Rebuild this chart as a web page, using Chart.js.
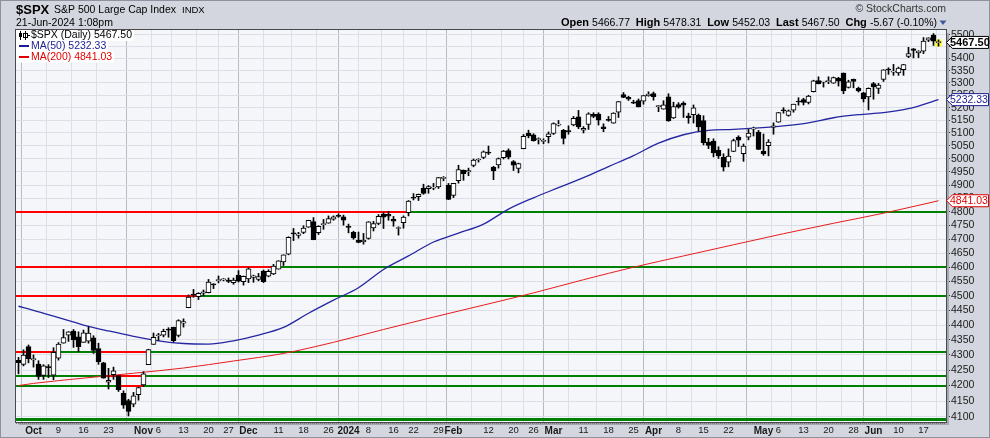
<!DOCTYPE html>
<html>
<head>
<meta charset="utf-8">
<script src="https://cdn.jsdelivr.net/npm/chart.js@4.4.1/dist/chart.umd.min.js"></script>
<style>
  html, body { margin: 0; padding: 0; background: #d3d6de; }
  #wrap { width: 990px; height: 438px; }
</style>
</head>
<body>
<div id="wrap"><canvas id="spxChart" width="990" height="438"></canvas></div>
<script>
// first candle is Sep 27 2023, index 0 = Oct 2 2023 (trading days)
const firstIndex = -3;

const opens = [
  4282, 4269, 4328,
  4284, 4270, 4233, 4260, 4234,
  4289, 4339, 4366, 4380, 4360,
  4342, 4346, 4357, 4321, 4274,
  4211, 4235, 4232, 4175, 4152,
  4140, 4171, 4202, 4268, 4335,
  4364, 4366, 4384, 4392, 4365,
  4406, 4459, 4505, 4497, 4509,
  4511, 4539, 4553, 4555,
  4555, 4546, 4571, 4549, 4559,
  4564, 4557, 4586, 4568, 4576,
  4593, 4619, 4646, 4721, 4714,
  4725, 4744, 4764, 4724, 4753,
  4758, 4773, 4786, 4782,
  4745, 4725, 4697, 4690,
  4703, 4741, 4757, 4792, 4791,
  4772, 4739, 4760, 4797,
  4854, 4856, 4888, 4886, 4888,
  4893, 4925, 4899, 4861, 4916,
  4957, 4950, 4974, 4995, 5005,
  5026, 4968, 4976, 5004, 5031,
  4989, 4963, 5039, 5100,
  5093, 5074, 5067, 5085, 5098,
  5131, 5110, 5109, 5132, 5164,
  5111, 5134, 5174, 5175, 5124,
  5154, 5139, 5182, 5253, 5242,
  5220, 5229, 5226, 5248,
  5257, 5204, 5194, 5244, 5159,
  5212, 5218, 5168, 5172, 5171,
  5149, 5064, 5068, 5032, 5005,
  4987, 5028, 5084, 5019, 5084,
  5115, 5103, 5029, 5050, 5123,
  5142, 5188, 5169, 5190, 5225,
  5233, 5221, 5264, 5310, 5303,
  5305, 5299, 5319, 5340, 5282,
  5315, 5278, 5260, 5243,
  5297, 5278, 5314, 5357, 5344,
  5341, 5354, 5409, 5441, 5424,
  5431, 5477, 5499, 5466.77
];

const highs = [
  4292, 4317, 4333,
  4300, 4281, 4268, 4268, 4324,
  4341, 4385, 4378, 4385, 4377,
  4383, 4394, 4364, 4339, 4276,
  4256, 4260, 4232, 4183, 4156,
  4178, 4195, 4245, 4319, 4373,
  4372, 4386, 4391, 4393, 4418,
  4421, 4503, 4522, 4511, 4520,
  4557, 4542, 4569, 4560,
  4562, 4562, 4588, 4569, 4599,
  4572, 4578, 4590, 4591, 4610,
  4623, 4644, 4709, 4739, 4725,
  4749, 4769, 4779, 4749, 4772,
  4785, 4785, 4793, 4788,
  4755, 4729, 4726, 4721,
  4764, 4765, 4790, 4798, 4802,
  4783, 4745, 4785, 4842,
  4868, 4866, 4903, 4898, 4906,
  4929, 4932, 4906, 4906, 4975,
  4957, 4964, 4999, 5000, 5030,
  5049, 4971, 5003, 5032, 5038,
  4993, 4983, 5094, 5111,
  5097, 5081, 5077, 5104, 5140,
  5149, 5114, 5128, 5165, 5189,
  5125, 5180, 5180, 5180, 5136,
  5165, 5180, 5225, 5261, 5246,
  5230, 5235, 5249, 5264,
  5263, 5209, 5228, 5256, 5222,
  5220, 5224, 5178, 5211, 5175,
  5168, 5079, 5077, 5046, 5019,
  5038, 5076, 5089, 5057, 5114,
  5123, 5110, 5096, 5074, 5140,
  5181, 5200, 5191, 5214, 5240,
  5238, 5250, 5311, 5325, 5305,
  5325, 5324, 5323, 5341, 5311,
  5316, 5283, 5262, 5280,
  5302, 5298, 5354, 5362, 5376,
  5365, 5376, 5447, 5442, 5433,
  5488, 5487, 5505, 5478.31
];

const lows = [
  4238, 4264, 4274,
  4260, 4220, 4220, 4226, 4219,
  4283, 4339, 4345, 4325, 4311,
  4342, 4339, 4305, 4269, 4224,
  4189, 4220, 4181, 4127, 4103,
  4132, 4153, 4197, 4268, 4335,
  4348, 4360, 4359, 4343, 4360,
  4393, 4459, 4495, 4487, 4500,
  4510, 4525, 4545, 4552,
  4546, 4540, 4548, 4537, 4546,
  4547, 4552, 4546, 4566, 4574,
  4593, 4606, 4644, 4695, 4704,
  4720, 4743, 4698, 4717, 4736,
  4758, 4769, 4780, 4751,
  4723, 4700, 4687, 4682,
  4700, 4730, 4753, 4739, 4769,
  4747, 4715, 4740, 4785,
  4844, 4842, 4865, 4869, 4882,
  4887, 4916, 4845, 4853, 4907,
  4918, 4935, 4969, 4987, 5000,
  5016, 4920, 4964, 4999, 4999,
  4955, 4946, 5038, 5081,
  5068, 5057, 5058, 5061, 5094,
  5127, 5057, 5095, 5128, 5117,
  5100, 5114, 5160, 5131, 5105,
  5146, 5138, 5161, 5240, 5229,
  5216, 5203, 5214, 5246,
  5230, 5184, 5194, 5146, 5157,
  5198, 5161, 5138, 5139, 5107,
  5053, 5039, 5007, 5001, 4953,
  4969, 5027, 5047, 4990, 5073,
  5088, 5035, 5013, 5011, 5095,
  5142, 5178, 5166, 5182, 5210,
  5211, 5215, 5263, 5296, 5283,
  5297, 5298, 5287, 5256, 5279,
  5280, 5263, 5223, 5191,
  5234, 5257, 5306, 5335, 5331,
  5331, 5331, 5404, 5403, 5404,
  5421, 5471, 5455, 5452.03
];

const closes = [
  4274.5, 4299.7, 4288.1,
  4288.4, 4229.5, 4263.8, 4258.2, 4308.5,
  4335.7, 4358.2, 4377, 4349.6, 4327.8,
  4373.6, 4373.2, 4314.6, 4278, 4224.2,
  4217, 4247.7, 4186.8, 4137.2, 4117.4,
  4166.8, 4193.8, 4237.9, 4317.8, 4358.3,
  4366, 4378.4, 4382.8, 4347.4, 4415.2,
  4411.6, 4495.7, 4502.9, 4508.2, 4514,
  4547.4, 4538.2, 4556.6, 4559.3,
  4550.4, 4554.9, 4550.6, 4567.8, 4594.6,
  4569.8, 4567.2, 4549.3, 4585.6, 4604.4,
  4622.4, 4643.7, 4707.1, 4719.6, 4719.2,
  4740.6, 4768.4, 4698.4, 4746.8, 4754.6,
  4774.8, 4781.6, 4783.4, 4769.8,
  4742.8, 4704.8, 4688.7, 4697.2,
  4763.5, 4756.5, 4783.5, 4780.2, 4783.8,
  4766, 4739.2, 4780.9, 4839.8,
  4850.4, 4864.6, 4868.6, 4894.2, 4891,
  4927.9, 4925, 4845.7, 4906.2, 4958.6,
  4942.8, 4954.2, 4995.1, 4997.9, 5026.6,
  5021.8, 4953.2, 5000.6, 5029.7, 5005.6,
  4975.5, 4981.8, 5087, 5088.8,
  5069.5, 5078.2, 5069.8, 5096.3, 5137.1,
  5131, 5078.7, 5104.8, 5157.4, 5123.7,
  5117.9, 5175.3, 5165.3, 5150.5, 5117.1,
  5149.4, 5178.5, 5224.6, 5241.5, 5234.2,
  5218.2, 5203.6, 5248.5, 5254.4,
  5243.8, 5205.8, 5211.5, 5147.2, 5204.3,
  5202.4, 5209.9, 5160.6, 5199.1, 5123.4,
  5061.8, 5051.4, 5022.2, 5011.1, 4967.2,
  5010.6, 5070.6, 5071.6, 5048.4, 5100,
  5116.2, 5035.7, 5018.4, 5064.2, 5127.8,
  5180.7, 5187.7, 5187.7, 5214.1, 5222.7,
  5221.4, 5246.7, 5308.2, 5297.1, 5303.3,
  5308.1, 5321.4, 5307, 5267.8, 5304.7,
  5306, 5267, 5235.5, 5277.5,
  5283.4, 5291.3, 5354, 5353, 5347,
  5360.8, 5375.3, 5421, 5433.7, 5431.6,
  5473.2, 5487, 5473.17, 5467.5
];

// moving averages (weekly points)
const ma50Index = [-3, 0, 5, 10, 15, 20, 25, 30, 35, 40, 45, 50, 55, 60, 65, 70, 75, 80, 85, 90, 95,
  100, 105, 110, 115, 120, 125, 130, 135, 140, 145, 150, 155, 160, 165, 170, 175, 181];
const ma50 = [4464, 4450, 4425, 4400, 4380, 4362, 4347, 4338, 4336, 4347, 4366, 4392, 4440, 4485, 4528, 4592, 4640, 4690, 4722, 4755, 4810,
  4852, 4890, 4928, 4970, 5012, 5060, 5093, 5110, 5114, 5120, 5128, 5140, 5160, 5172, 5180, 5196, 5232.33];

const ma200Index = [-3, 0, 10, 20, 30, 40, 50, 60, 70, 80, 90, 100, 110, 120, 130, 140, 150, 160, 170, 181];
const ma200 = [4200, 4207, 4224, 4240, 4257, 4280, 4305, 4342, 4385, 4427, 4468, 4510, 4556, 4600, 4640, 4680, 4720, 4758, 4795, 4841.03];

// x axis labels
const tickIndex = [0, 5, 10, 15, 22, 25, 30, 35, 39, 43, 49, 54, 59, 63, 67, 72, 76, 81, 84, 91, 96, 100,
  104, 110, 115, 120, 124, 129, 134, 139, 146, 149, 154, 159, 164, 168, 173, 178];
const tickText = ["Oct", "9", "16", "23", "Nov", "6", "13", "20", "27", "Dec", "11", "18", "26", "2024", "8", "16", "22", "29", "Feb", "12", "20", "26",
  "Mar", "11", "18", "25", "Apr", "8", "15", "22", "May", "6", "13", "20", "28", "Jun", "10", "17"];
const boldTicks = ["Oct", "Nov", "Dec", "2024", "Feb", "Mar", "Apr", "May", "Jun"];

const yTicks = [];
for (let v = 4100; v <= 5500; v += 50) yTicks.push(v);

// drawn support / resistance lines, red parts given as index spans
const levelPrices = [4800, 4600, 4500, 4310, 4230, 4200, 4095];
const levelRedSpans = [
  [[-3.5, 75.3]],
  [[-3.5, 47.9]],
  [[-3.5, 32.5]],
  [[-3.5, 5.1], [13.3, 22.9]],
  [[13.9, 21.9]],
  [[16.9, 21.9]],
  []
];

const FONT = '"Liberation Sans", Arial, sans-serif';
const last = closes.length - 1;

const candleX = closes.map((c, k) => k + firstIndex);
const wickData = candleX.map((x, k) => ({ x: x, y: [lows[k], highs[k]] }));
const bodyData = candleX.map((x, k) => ({ x: x, y: [opens[k], closes[k]] }));
const bodyFill = closes.map((c, k) => (c >= opens[k] ? "#ffffff" : "#000000"));

function tag(ctx, x0, y, text, color, font) {
  ctx.save();
  ctx.beginPath();
  ctx.moveTo(x0 + 0.5, y);
  ctx.lineTo(x0 + 6.5, y - 6);
  ctx.lineTo(988.5, y - 6);
  ctx.lineTo(988.5, y + 6);
  ctx.lineTo(x0 + 6.5, y + 6);
  ctx.closePath();
  ctx.fillStyle = "#ffffff";
  ctx.fill();
  ctx.strokeStyle = color;
  ctx.lineWidth = 1;
  ctx.stroke();
  ctx.fillStyle = color;
  ctx.font = font;
  ctx.textAlign = "left";
  ctx.textBaseline = "middle";
  ctx.fillText(text, x0 + 4, y + 0.5);
  ctx.restore();
}

const framePlugin = {
  id: "frame",
  beforeDraw(chart) {
    const ctx = chart.ctx;
    const a = chart.chartArea;
    ctx.save();
    ctx.fillStyle = "#d3d6de";
    ctx.fillRect(0, 0, chart.width, chart.height);
    ctx.fillStyle = "#f5f6fa";
    ctx.fillRect(a.left, a.top, a.right - a.left, a.bottom - a.top);
    ctx.restore();
  },
  beforeDatasetsDraw(chart) {
    const ctx = chart.ctx;
    const xs = chart.scales.x;
    const ys = chart.scales.y;
    const a = chart.chartArea;
    ctx.save();
    levelPrices.forEach((p, k) => {
      const y = Math.round(ys.getPixelForValue(p));
      const w = k === levelPrices.length - 1 ? 3 : 2;
      ctx.fillStyle = "#008000";
      ctx.fillRect(a.left, y - 1, a.right - a.left, w);
      ctx.fillStyle = "#ff0000";
      levelRedSpans[k].forEach(s => {
        const x1 = Math.max(a.left, xs.getPixelForValue(s[0]));
        const x2 = xs.getPixelForValue(s[1]);
        ctx.fillRect(x1, y - 1, x2 - x1, w);
      });
    });
    // highlight behind the latest candle
    const lx = xs.getPixelForValue(candleX[last]);
    const ly = ys.getPixelForValue(closes[last]);
    ctx.fillStyle = "#ffff33";
    ctx.fillRect(lx - 3.5, ly - 3, 7, 7);
    ctx.restore();
  },
  afterDraw(chart) {
    const ctx = chart.ctx;
    const a = chart.chartArea;
    const ys = chart.scales.y;
    ctx.save();
    // plot frame + shadow
    ctx.strokeStyle = "#a4a8b2";
    ctx.lineWidth = 2;
    ctx.beginPath();
    ctx.moveTo(a.right + 2, a.top + 3);
    ctx.lineTo(a.right + 2, a.bottom + 2);
    ctx.lineTo(a.left + 3, a.bottom + 2);
    ctx.stroke();
    ctx.strokeStyle = "#4a4a4a";
    ctx.lineWidth = 1;
    ctx.strokeRect(a.left - 0.5, a.top - 0.5, a.right - a.left + 1, a.bottom - a.top + 1);
    // day marks under the plot
    ctx.strokeStyle = "#777";
    ctx.setLineDash([1, 1]);
    ctx.beginPath();
    ctx.moveTo(a.left, a.bottom + 1.5);
    ctx.lineTo(a.right, a.bottom + 1.5);
    ctx.stroke();
    ctx.setLineDash([]);
    // outer border
    ctx.strokeStyle = "#8e929c";
    ctx.strokeRect(0.5, 0.5, chart.width - 1, chart.height - 1);

    // header
    ctx.textBaseline = "middle";
    ctx.textAlign = "left";
    ctx.fillStyle = "#000";
    ctx.font = "bold 13px " + FONT;
    ctx.fillText("$SPX", 16, 10);
    ctx.font = "10.5px " + FONT;
    ctx.fillText("S&P 500 Large Cap Index", 54, 10);
    ctx.font = "9.5px " + FONT;
    ctx.fillText("INDX", 182, 10);
    ctx.font = "10.5px " + FONT;
    ctx.fillText("21-Jun-2024 1:08pm", 16, 23);

    ctx.textAlign = "right";
    ctx.fillStyle = "#333";
    ctx.font = "10.5px " + FONT;
    ctx.fillText("\u00a9 StockCharts.com", 946, 9);

    const chg = closes[last] - closes[last - 1];
    const pct = chg / closes[last - 1] * 100;
    const parts = [
      ["Open ", true], [opens[last].toFixed(2) + "  ", false],
      ["High ", true], [highs[last].toFixed(2) + "  ", false],
      ["Low ", true], [lows[last].toFixed(2) + "  ", false],
      ["Last ", true], [closes[last].toFixed(2) + "  ", false],
      ["Chg ", true], [chg.toFixed(2) + " (" + pct.toFixed(2) + "%)", false]
    ];
    let total = 0;
    parts.forEach(p => {
      ctx.font = (p[1] ? "bold 11px " : "10.5px ") + FONT;
      total += ctx.measureText(p[0]).width;
    });
    let x = 937 - total;
    ctx.textAlign = "left";
    ctx.fillStyle = "#000";
    parts.forEach(p => {
      ctx.font = (p[1] ? "bold 11px " : "10.5px ") + FONT;
      ctx.fillText(p[0], x, 23);
      x += ctx.measureText(p[0]).width;
    });
    ctx.fillStyle = "#3d5a9a";
    ctx.beginPath();
    ctx.moveTo(939.5, 20.5);
    ctx.lineTo(946.5, 20.5);
    ctx.lineTo(943, 25);
    ctx.closePath();
    ctx.fill();

    // legend inside plot
    const legend = [
      ["$SPX (Daily) " + closes[last].toFixed(2), "#000000", 35.5],
      ["MA(50) " + ma50[ma50.length - 1].toFixed(2), "#1c1c96", 46],
      ["MA(200) " + ma200[ma200.length - 1].toFixed(2), "#e00000", 57]
    ];
    ctx.font = "10.5px " + FONT;
    legend.forEach((l, k) => {
      const w = ctx.measureText(l[0]).width;
      ctx.fillStyle = "#ffffff";
      ctx.fillRect(a.left, l[2] - 5.5, w + 17, 11);
      ctx.fillStyle = l[1];
      ctx.fillText(l[0], 31, l[2]);
      if (k > 0) {
        ctx.fillRect(19, l[2] - 1, 10, 2);
      }
    });
    // tiny candle icon
    ctx.fillStyle = "#000";
    ctx.fillRect(20, 31, 1, 9);
    ctx.fillRect(19, 33, 3, 4);
    ctx.fillRect(25, 31, 1, 9);
    ctx.strokeStyle = "#000";
    ctx.strokeRect(23.5, 33.5, 4, 4);
    ctx.fillRect(28, 35, 2, 1);

    // price tags on the axis
    tag(ctx, a.right, ys.getPixelForValue(ma200[ma200.length - 1]), ma200[ma200.length - 1].toFixed(2), "#e00000", "10.5px " + FONT);
    tag(ctx, a.right, ys.getPixelForValue(ma50[ma50.length - 1]), ma50[ma50.length - 1].toFixed(2), "#1c1c96", "10.5px " + FONT);
    tag(ctx, a.right, ys.getPixelForValue(closes[last]), closes[last].toFixed(2), "#000000", "bold 11px " + FONT);
    ctx.restore();
  }
};

const chartElement = document.getElementById("spxChart");
const spxChart = new Chart(chartElement, {
  type: "bar",
  data: {
    datasets: [
      {
        type: "line",
        data: ma50Index.map((x, k) => ({ x: x, y: ma50[k] })),
        borderColor: "#2626a2",
        borderWidth: 1.3,
        pointRadius: 0,
        cubicInterpolationMode: "monotone",
        order: 5,
      },
      {
        type: "line",
        data: ma200Index.map((x, k) => ({ x: x, y: ma200[k] })),
        borderColor: "#e81c1c",
        borderWidth: 1,
        pointRadius: 0,
        cubicInterpolationMode: "monotone",
        order: 4,
      },
      {
        data: wickData,
        backgroundColor: "#000000",
        barThickness: 1,
        grouped: false,
        order: 2,
      },
      {
        data: bodyData,
        backgroundColor: bodyFill,
        borderColor: "#000000",
        borderWidth: 1,
        borderSkipped: false,
        barThickness: 5,
        minBarLength: 1,
        grouped: false,
        order: 1,
      },
    ],
  },
  options: {
    responsive: false,
    animation: false,
    layout: { padding: { left: 16, top: 30, right: 0, bottom: 0 } },
    plugins: {
      legend: { display: false },
      tooltip: { enabled: false },
    },
    scales: {
      x: {
        type: "linear",
        min: -3.5,
        max: 182.5,
        offset: false,
        afterBuildTicks: scale => {
          scale.ticks = tickIndex.map(v => ({ value: v }));
        },
        afterFit: scale => {
          scale.height = 16;
        },
        border: { display: false },
        grid: {
          drawTicks: false,
          color: ctx => (boldTicks.includes(tickText[ctx.index]) ? "#b6bac4" : "#dcdfe7"),
        },
        ticks: {
          autoSkip: false,
          maxRotation: 0,
          padding: 3,
          color: "#1a1a1a",
          font: ctx => (boldTicks.includes(tickText[ctx.index])
            ? { family: FONT, size: 10, weight: "bold" }
            : { family: FONT, size: 9.5 }),
          callback: (value, index) => tickText[index],
        },
      },
      y: {
        type: "logarithmic",
        position: "right",
        min: 4084,
        max: 5520,
        afterBuildTicks: scale => {
          scale.ticks = yTicks.map(v => ({ value: v }));
        },
        afterFit: scale => {
          scale.width = 44;
        },
        border: { display: false },
        grid: {
          color: "#dcdfe7",
          tickLength: 4,
          tickColor: "#333333",
        },
        ticks: {
          autoSkip: false,
          padding: 1,
          color: "#1a1a1a",
          font: { family: FONT, size: 10.5 },
          callback: value => String(value),
        },
      },
    },
  },
  plugins: [framePlugin],
});
</script>
</body>
</html>
